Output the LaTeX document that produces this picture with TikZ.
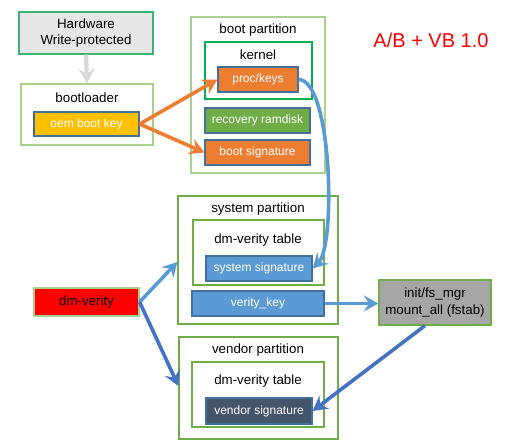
\documentclass[tikz,border=0pt]{standalone}
\usepackage{fontspec}
\setmainfont{Liberation Sans}
\usetikzlibrary{fit,arrows.meta}
\definecolor{hwfill}{HTML}{E7E6E6}
\definecolor{hwborder}{HTML}{3CB371}
\definecolor{lgreen}{HTML}{A9D18E}
\definecolor{mgreen}{HTML}{70AD47}
\definecolor{kgreen}{HTML}{00B050}
\definecolor{bborder}{HTML}{41719C}
\definecolor{gold}{HTML}{FFC000}
\definecolor{orng}{HTML}{ED7D31}
\definecolor{rgreen}{HTML}{70AD47}
\definecolor{lblue}{HTML}{5B9BD5}
\definecolor{dblue}{HTML}{4472C4}
\definecolor{slate}{HTML}{44546A}
\definecolor{gry}{HTML}{A6A6A6}
\definecolor{arrgray}{HTML}{D9D9D9}
\tikzset{
  cont/.style={draw=#1, line width=0.9pt, inner sep=0pt, fill=white},
  keybox/.style={draw=bborder, line width=0.9pt, fill=#1, inner sep=0pt},
  wtext/.style={text=white, font=\fontsize{9}{10}\selectfont, inner sep=0pt},
  lbl/.style={font=\fontsize{10}{12}\selectfont, inner sep=0pt, align=center},
  arr/.style={line width=2.7pt, draw=#1, -{Stealth[length=11pt,width=12pt,inset=4pt]}},
}
\begin{document}
\begin{tikzpicture}[x=0.75pt,y=-0.75pt]
\useasboundingbox (0,0) rectangle (506,443);
% Hardware
\node[draw=hwborder, line width=0.9pt, fill=hwfill, inner sep=0pt, fit={(19,12) (153,54)}] (hw) {};
\node[lbl] (hwt) at (hw.center) {Hardware\\Write-protected};
% bootloader
\node[cont=lgreen, fit={(21,84) (153,145)}] (bl) {};
\node[lbl] (bllbl) at (87,98) {bootloader};
\node[keybox=gold, fit={(34,112) (139,136)}] (oem) {};
\node[wtext] (oemt) at (oem.center) {oem boot key};
% boot partition
\node[cont=lgreen, fit={(191,17) (325,173)}] (bp) {};
\node[lbl] (bplbl) at (258,30) {boot partition};
\node[cont=kgreen, fit={(205,42) (312,99)}] (kern) {};
\node[lbl] (kernlbl) at (258,55) {kernel};
\node[keybox=orng, fit={(218,67) (298,92)}] (proc) {};
\node[wtext] (proct) at (proc.center) {proc/keys};
\node[keybox=rgreen, fit={(205,108) (310,133)}] (rec) {};
\node[wtext] (rect) at (rec.center) {recovery ramdisk};
\node[keybox=orng, fit={(205,140) (310,165)}] (bsig) {};
\node[wtext] (bsigt) at (bsig.center) {boot signature};
% system partition
\node[cont=mgreen, fit={(178,196) (338,324)}] (sp) {};
\node[lbl] (splbl) at (258,209) {system partition};
\node[cont=mgreen, fit={(193,220) (324,285)}] (sdm) {};
\node[lbl] (sdmlbl) at (258,240) {dm-verity table};
\node[keybox=lblue, fit={(206,256) (312,281)}] (ssig) {};
\node[wtext] (ssigt) at (ssig.center) {system signature};
\node[keybox=lblue, fit={(192,291) (324,316)}] (vk) {};
\node[wtext] (vkt) at (vk.center) {verity\_key};
% vendor partition
\node[cont=mgreen, fit={(179,337) (338,439)}] (vp) {};
\node[lbl] (vplbl) at (258,350) {vendor partition};
\node[cont=mgreen, fit={(192,362) (324,427)}] (vdm) {};
\node[lbl] (vdmlbl) at (258,381) {dm-verity table};
\node[keybox=slate, fit={(206,398) (312,424)}] (vsig) {};
\node[wtext] (vsigt) at (vsig.center) {vendor signature};
% dm-verity
\node[draw=lgreen, line width=0.9pt, fill=red, inner sep=0pt, fit={(34,288) (139,316)}] (dmv) {};
\node[lbl] (dmvt) at (dmv.center) {dm-verity};
% init
\node[draw=mgreen, line width=0.9pt, fill=gry, inner sep=0pt, fit={(379,280) (491,325)}] (init) {};
\node[lbl, font=\fontsize{10}{13}\selectfont] (initt) at (init.center) {init/fs\_mgr\\mount\_all (fstab)};
% title
\node[text=red, font=\fontsize{15}{18}\selectfont, inner sep=0pt] (title) at (431,40) {A/B + VB 1.0};
% arrows
\draw[arr=arrgray, line width=3.2pt] (hw.south) -- (bl.north);
\draw[arr=orng] (oem.east) -- (proc.west);
\draw[arr=orng] (oem.east) -- (bsig.west);
\draw[arr=lblue] (proc.east) .. controls (332,80) and (336,245) .. (ssig.east);
\draw[arr=lblue] (dmv.east) -- (sp.west |- 0,262);
\draw[arr=dblue] (dmv.east) -- (vp.west |- 0,386);
\draw[arr=lblue] (vk.east) -- (init.west |- vk.east);
\draw[arr=dblue] (init.south) ++(-10,0) coordinate (ib) (ib) -- (vsig.east);
\end{tikzpicture}
\end{document}
